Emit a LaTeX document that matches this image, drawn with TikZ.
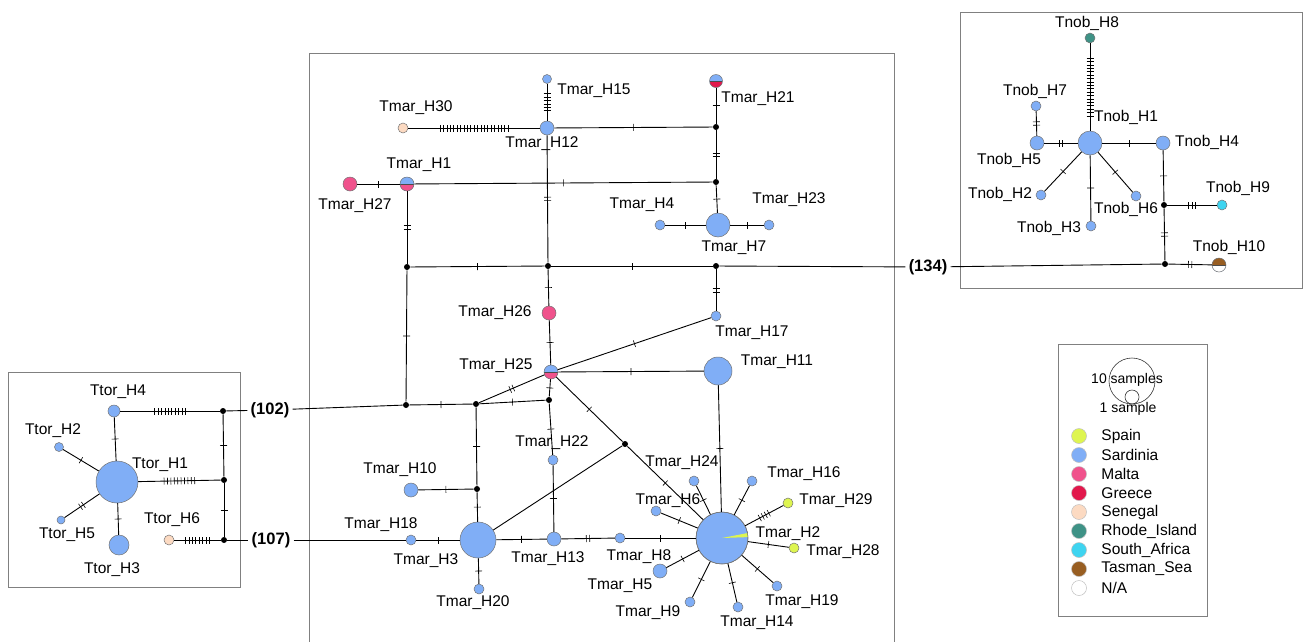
\documentclass[tikz,border=0pt]{standalone}
\usepackage{fontspec}
\setmainfont{Liberation Sans}
\usetikzlibrary{decorations.markings}

\definecolor{spain}{RGB}{222,245,80}
\definecolor{sardinia}{RGB}{128,174,246}
\definecolor{malta}{RGB}{240,82,140}
\definecolor{greece}{RGB}{226,24,76}
\definecolor{senegal}{RGB}{252,218,194}
\definecolor{rhode}{RGB}{62,146,134}
\definecolor{safrica}{RGB}{62,212,240}
\definecolor{tasman}{RGB}{152,94,34}

\tikzset{
  hap/.style={circle, draw=black!55, line width=0.5pt, inner sep=0pt, minimum size=#1pt, fill=sardinia},
  med/.style={circle, fill=black, inner sep=0pt, minimum size=6pt},
  halves/.style 2 args={path picture={
      \fill[#1] (path picture bounding box.north west) rectangle (path picture bounding box.east);
      \fill[#2] (path picture bounding box.west) rectangle (path picture bounding box.south east);
      \draw[black!70, line width=0.6pt] (path picture bounding box.west) -- (path picture bounding box.east);}},
  lab/.style={font=\fontsize{15.5}{18}\selectfont, inner sep=1pt},
  link/.style={font=\bfseries\fontsize{16.5}{19}\selectfont, inner sep=3pt},
  mut/.style={postaction={decorate, decoration={markings, mark=at position 0.5 with {
      \foreach \i in {1,...,#1} \draw[line width=0.6pt] ({(\i-(#1+1)/2)*3.4pt},-3.5pt) -- ({(\i-(#1+1)/2)*3.4pt},3.5pt);}}}},
  panel/.style={draw=black!50, line width=0.8pt},
  key/.style={circle, draw=black!25, line width=0.5pt, minimum size=15pt, inner sep=0pt}
}

\begin{document}
\begin{tikzpicture}[x=1pt, y=-1pt, line width=0.9pt]
\useasboundingbox (0,0) rectangle (1306,641);
\draw[panel] (8,372) rectangle (240,587);
\draw[panel] (309,53) rectangle (894,700);
\draw[panel] (960,12) rectangle (1302,288);
\draw[panel] (1058,344) rectangle (1207,616);

% Ttor
\foreach \n/\x/\y/\d in {1/117/482/42, 2/59/447/9, 3/119/545/20, 4/114/411/12, 5/61/520/8}
  \node[hap=\d] (tor\n) at (\x,\y) {};
\node[hap=10, fill=senegal] (tor6) at (169,540) {};
\foreach \n/\x/\y in {1/160/465, 2/53/431, 3/112/570, 4/118/392, 5/67/535, 6/172/520}
  \node[lab] (ltor\n) at (\x,\y) {Ttor\_H\n};
\node[med] (jt1) at (223,411) {};
\node[med] (jt2) at (224,480) {};
\node[med] (jt3) at (224,540) {};

% Tmar
\foreach \n/\x/\y/\d in {2/722/538/52, 3/478/540/36, 4/660/225/10, 5/660/571/14, 6/656/511/10,
    7/718/225/24, 8/620/538/10, 9/690/602/10, 10/411/490/14, 11/718/371/28, 12/547/128/14,
    13/554/539/14, 14/738/607/10, 15/547/79/9, 16/752/481/10, 17/716/316/10, 18/411/540/10,
    19/777/586/10, 20/479/589/10, 22/553/460/10, 23/769/225/10, 24/694/481/10}
  \node[hap=\d] (mar\n) at (\x,\y) {};
\node[hap=14, halves={sardinia}{malta}] (mar1) at (407,184) {};
\node[hap=13, halves={sardinia}{greece}] (mar21) at (716,81) {};
\node[hap=14, halves={sardinia}{malta}] (mar25) at (551,372) {};
\node[hap=14, fill=malta] (mar26) at (549,313) {};
\node[hap=14, fill=malta] (mar27) at (350,184) {};
\node[hap=10, fill=senegal] (mar30) at (403,128) {};
\node[hap=10, fill=spain] (mar28) at (794,548) {};
\node[hap=10, fill=spain] (mar29) at (788,503) {};
\fill[spain] (mar2.center) -- +(2:26pt) arc[start angle=2, end angle=11, radius=26pt] -- cycle;
\draw[black!55, line width=0.5pt] (mar2) circle (26pt);
\foreach \n/\x/\y in {1/419/165, 2/788/534, 3/426/561, 4/642/205, 5/620/586, 6/668/501, 7/734/248,
    8/639/557, 9/648/613, 10/400/470, 11/777/362, 12/542/144, 13/548/559, 14/757/623, 15/594/91,
    16/804/474, 17/752/333, 18/381/525, 19/802/602, 20/473/603, 21/758/99, 22/552/443, 23/789/200,
    24/682/463, 25/496/366, 26/495/313, 27/355/206, 28/843/552, 29/836/501, 30/416/108}
  \node[lab] (lmar\n) at (\x,\y) {Tmar\_H\n};
\foreach \n/\x/\y in {a/716/127, b/716/182, c/716/266, d/548/266, e/407/267, f/406/405,
    g/476/404, h/549/400, i/625/444, j/477/489}
  \node[med] (j\n) at (\x,\y) {};

% Tnob
\foreach \n/\x/\y/\d in {1/1090/143/24, 2/1041/195/10, 3/1091/226/10, 4/1163/143/14,
    5/1037/143/14, 6/1136/196/10, 7/1036/106/10}
  \node[hap=\d] (nob\n) at (\x,\y) {};
\node[hap=10, fill=rhode] (nob8) at (1090,38) {};
\node[hap=10, fill=safrica] (nob9) at (1222,205) {};
\node[hap=14, halves={tasman}{white}] (nob10) at (1219,265) {};
\foreach \n/\x/\y in {1/1126/117, 2/1000/194, 3/1049/228, 4/1207/142, 5/1009/160,
    6/1126/209, 7/1035/91, 8/1087/23, 9/1238/188, 10/1229/247}
  \node[lab] (lnob\n) at (\x,\y) {Tnob\_H\n};
\node[med] (jn1) at (1164,205) {};
\node[med] (jn2) at (1165,264) {};

% links between the networks
\node[link] (n102) at (270,410) {(102)};
\node[link] (n107) at (271,540) {(107)};
\node[link] (n134) at (928,267) {(134)};
\draw (jt1) -- (n102) -- (jf);
\draw (jt3) -- (n107) -- (mar18);
\draw (jc) -- (n134) -- (jn2);
\draw (mar3) -- (ji);

\foreach \a/\b/\k in {tor4/jt1/10, tor1/jt2/10, tor6/jt3/8, jt1/jt2/1, jt2/jt3/1,
    tor4/tor1/1, tor2/tor1/1, tor5/tor1/2, tor3/tor1/1,
    mar15/mar12/6, mar30/mar12/21, mar12/ja/1, mar21/ja/1, ja/jb/2, jb/mar7/1,
    mar27/mar1/1, mar1/jb/1, mar12/jd/2, mar4/mar7/1, mar7/mar23/1, mar1/je/2,
    je/jd/1, jd/jc/1, jc/mar17/2, jd/mar26/1, mar26/mar25/1, mar25/mar17/1,
    mar25/mar11/1, mar25/jg/2, mar25/jh/1, mar25/ji/1, je/jf/1, jf/jg/1, jg/jh/1,
    jh/mar22/1, jg/jj/1, mar10/jj/1, jj/mar3/1, ji/mar2/1, mar22/mar13/1,
    mar3/mar13/1, mar18/mar3/1, mar3/mar20/1, mar13/mar8/2, mar8/mar2/1,
    mar11/mar2/1, mar2/mar24/1, mar2/mar6/1, mar2/mar16/1, mar2/mar29/4,
    mar2/mar28/1, mar2/mar19/1, mar2/mar14/1, mar2/mar9/1, mar2/mar5/1,
    nob8/nob1/18, nob7/nob5/2, nob5/nob1/2, nob1/nob4/1, nob1/nob2/1, nob1/nob3/1,
    nob1/nob6/1, nob4/jn1/1, jn1/nob9/3, jn1/jn2/2, jn2/nob10/2}
  \draw[mut=\k] (\a) -- (\b);

% legend
\node[circle, draw=black!80, line width=0.6pt, minimum size=46pt, inner sep=0pt] (big) at (1132,381) {};
\node[circle, draw=black!80, line width=0.6pt, minimum size=14pt, inner sep=0pt] (small) at (1132,397) {};
\node[font=\fontsize{14}{16}\selectfont] (tbig) at (1127,380) {10 samples};
\node[font=\fontsize{14}{16}\selectfont] (tsmall) at (1128,409) {1 sample};
\foreach \c/\t [count=\i from 0] in {spain/Spain, sardinia/Sardinia, malta/Malta, greece/Greece,
    senegal/Senegal, rhode/Rhode\_Island, safrica/South\_Africa, tasman/Tasman\_Sea, white/N/A}
  \node[key, fill=\c] (k\i) at (1079,436+19*\i) {};
\foreach \t [count=\i from 0] in {Spain, Sardinia, Malta, Greece, Senegal, Rhode\_Island,
    South\_Africa, Tasman\_Sea, N/A}
  \node[lab, anchor=west] (kt\i) at (1100,436+19*\i) {\t};
\end{tikzpicture}
\end{document}
